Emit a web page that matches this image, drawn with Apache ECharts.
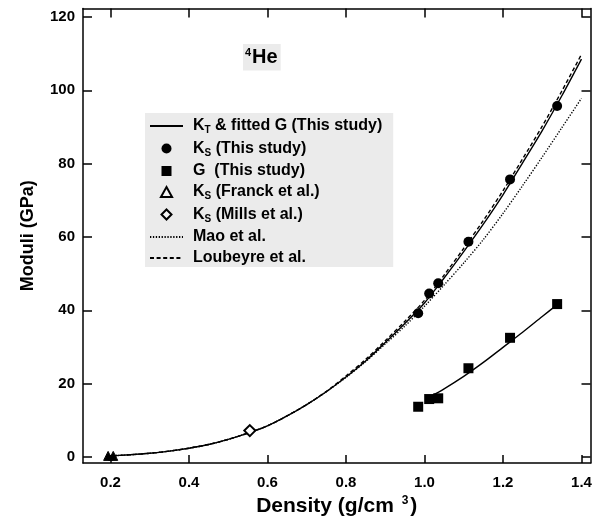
<!DOCTYPE html>
<html><head><meta charset="utf-8">
<script src="https://cdn.jsdelivr.net/npm/echarts@6/dist/echarts.min.js"></script>
<style>html,body{margin:0;padding:0;background:#fff}#c{width:605px;height:521px}</style>
</head><body><div id="c"></div>
<script>
// ---- data ----
const curveDensity = [0.19,0.25,0.3,0.35,0.4,0.45,0.5,0.55,0.6,0.65,0.7,0.75,0.8,0.85,0.9,0.95,1.0,1.05,1.1,1.15,1.2,1.25,1.3,1.35,1.4];
const ktThisStudy  = [0.25,0.6,1.0,1.6,2.4,3.4,4.8,6.5,8.5,11.2,14.3,17.8,21.8,26.2,31.2,36.4,42.0,48.8,56.0,63.5,71.5,80.2,89.0,98.5,108.5];
const maoEtAl      = [0.25,0.6,1.0,1.6,2.4,3.4,4.8,6.5,8.5,11.2,14.3,17.8,21.7,26.0,30.8,35.7,41.1,46.9,52.9,59.3,66.4,74.0,81.8,89.8,97.8];
const loubeyreEtAl = [0.25,0.6,1.0,1.6,2.4,3.4,4.8,6.5,8.5,11.2,14.3,17.9,22.1,26.6,31.7,37.0,42.7,49.6,56.9,64.5,72.6,81.3,90.2,99.8,109.8];
const gFitDensity  = [1.015,1.05,1.1,1.15,1.2,1.25,1.3,1.34];
const gFitValues   = [16.5,18.6,22.0,25.8,29.9,34.0,38.3,41.7];
const sampleDensity = [0.984,1.012,1.035,1.112,1.218,1.338];
const ksThisStudy   = [39.2,44.6,47.4,58.7,75.7,95.7];
const gThisStudy    = [13.7,15.8,16.0,24.2,32.5,41.7];
const franckDensity = [0.194,0.207];
const franckKs      = [0.3,0.3];
const millsDensity  = [0.555];
const millsKs       = [7.2];
const xTicks = [0.2,0.4,0.6,0.8,1.0,1.2,1.4];
const yTicks = [0,20,40,60,80,100,120];

const FONT = '"Liberation Sans", Arial, Helvetica, sans-serif';
const pairs = (xs, ys) => xs.map((x, i) => [x, ys[i]]);

const legendText = {
  'KT': '{n|K}{s|T}{n| & fitted G (This study)}',
  'KS this': '{n|K}{s|S}{n| (This study)}',
  'G this': '{n|G  (This study)}',
  'KS Franck': '{n|K}{s|S}{n| (Franck et al.)}',
  'KS Mills': '{n|K}{s|S}{n| (Mills et al.)}',
  'Mao': '{n|Mao et al.}',
  'Loubeyre': '{n|Loubeyre et al.}'
};
const hiddenSymbol = { opacity: 0 };
const hollow = { color: '#f4f4f4', borderColor: '#000', borderWidth: 2 };

const axisCommon = {
  type: 'value',
  axisLine: { show: true, onZero: false, lineStyle: { color: '#000', width: 1.5 } },
  splitLine: { show: false },
};

const chart = echarts.init(document.getElementById('c'), null, { renderer: 'canvas' });
chart.setOption({
  animation: false,
  backgroundColor: '#fff',
  textStyle: { fontFamily: FONT },
  grid: { left: 83, right: 14.5, top: 8.5, bottom: 58, containLabel: false, outerBoundsMode: 'none' },
  title: {
    text: '{sup|4}{b|He}',
    left: 243, top: 44, padding: [3, 3, 3, 2],
    backgroundColor: '#ebebeb',
    textStyle: {
      rich: {
        sup: { fontSize: 11, fontWeight: 'bold', color: '#000', fontFamily: FONT, padding: [0, 1, 10, 0] },
        b: { fontSize: 20, fontWeight: 'bold', color: '#000', fontFamily: FONT }
      }
    }
  },
  legend: {
    orient: 'vertical',
    left: 145, top: 113,
    padding: [5, 11, 1, 4],
    backgroundColor: '#ebebeb',
    itemWidth: 33, itemHeight: 10, itemGap: 5,
    data: [
      { name: 'KT', itemStyle: hiddenSymbol },
      { name: 'KS this', icon: 'circle' },
      { name: 'G this', icon: 'path://M0,0H10V10H0Z' },
      { name: 'KS Franck', icon: 'path://M5,0L10,9L0,9Z', itemStyle: hollow },
      { name: 'KS Mills', icon: 'path://M5,0L10,5L5,10L0,5Z', itemStyle: hollow },
      { name: 'Mao', itemStyle: hiddenSymbol },
      { name: 'Loubeyre', itemStyle: hiddenSymbol }
    ],
    formatter: name => legendText[name],
    textStyle: {
      padding: [0, 0, 0, 5],
      rich: {
        n: { fontSize: 16, fontWeight: 'bold', color: '#000', fontFamily: FONT },
        s: { fontSize: 10, fontWeight: 'bold', color: '#000', fontFamily: FONT, padding: [9, 0, 0, 0] }
      }
    }
  },
  xAxis: [
    Object.assign({}, axisCommon, {
      position: 'bottom', min: 0.13, max: 1.423,
      axisTick: { show: true, inside: true, length: 8, customValues: xTicks, lineStyle: { color: '#000', width: 1.5 } },
      axisLabel: { customValues: xTicks, formatter: v => v.toFixed(1), fontSize: 15, fontWeight: 'bold', color: '#000', margin: 12, fontFamily: FONT },
      name: '{a|Density (g/cm }{p|3}{a|)}',
      nameLocation: 'middle', nameGap: 31,
      nameTextStyle: {
        rich: {
          a: { fontSize: 21, fontWeight: 'bold', color: '#000', fontFamily: FONT },
          p: { fontSize: 12, fontWeight: 'bold', color: '#000', fontFamily: FONT, padding: [0, 2, 10, 2] }
        }
      }
    }),
    Object.assign({}, axisCommon, {
      position: 'top', min: 0.13, max: 1.423,
      axisTick: { show: true, inside: true, length: 9, customValues: xTicks, lineStyle: { color: '#000', width: 1.5 } },
      axisLabel: { show: false }
    })
  ],
  yAxis: [
    Object.assign({}, axisCommon, {
      position: 'left', min: -1.64, max: 122.3,
      axisTick: { show: true, inside: true, length: 9, customValues: yTicks, lineStyle: { color: '#000', width: 1.5 } },
      axisLabel: { customValues: yTicks, fontSize: 15, fontWeight: 'bold', color: '#000', margin: 8, fontFamily: FONT },
      name: 'Moduli (GPa)', nameLocation: 'middle', nameGap: 46, nameRotate: 90,
      nameTextStyle: { fontSize: 18, fontWeight: 'bold', color: '#000', fontFamily: FONT }
    }),
    Object.assign({}, axisCommon, {
      position: 'right', min: -1.64, max: 122.3,
      axisTick: { show: true, inside: true, length: 9, customValues: yTicks, lineStyle: { color: '#000', width: 1.5 } },
      axisLabel: { show: false }
    })
  ],
  series: [
    { name: 'Mao', type: 'line', symbol: 'none', smooth: 0.3, data: pairs(curveDensity, maoEtAl),
      lineStyle: { color: '#000', width: 1.4, type: [1.3, 1.6] }, itemStyle: { color: '#000' }, z: 2 },
    { name: 'Loubeyre', type: 'line', symbol: 'none', smooth: 0.3, data: pairs(curveDensity, loubeyreEtAl),
      lineStyle: { color: '#000', width: 1.4, type: [4, 2.6] }, itemStyle: { color: '#000' }, z: 2 },
    { name: 'KT', type: 'line', symbol: 'none', smooth: 0.3, data: pairs(curveDensity, ktThisStudy),
      lineStyle: { color: '#000', width: 1.4 }, itemStyle: { color: '#000' }, z: 3 },
    { name: 'KT', type: 'line', symbol: 'none', smooth: 0.3, data: pairs(gFitDensity, gFitValues),
      lineStyle: { color: '#000', width: 1.4 }, itemStyle: { color: '#000' }, z: 3 },
    { name: 'KS this', type: 'scatter', symbol: 'circle', symbolSize: 10, data: pairs(sampleDensity, ksThisStudy),
      itemStyle: { color: '#000', opacity: 1 }, z: 5 },
    { name: 'G this', type: 'scatter', symbol: 'rect', symbolSize: 10, data: pairs(sampleDensity, gThisStudy),
      itemStyle: { color: '#000', opacity: 1 }, z: 5 },
    { name: 'KS Franck', type: 'scatter', symbol: 'triangle', symbolSize: 9, data: pairs(franckDensity, franckKs),
      itemStyle: { color: '#000', borderColor: '#000', borderWidth: 1, opacity: 1 }, z: 5 },
    { name: 'KS Mills', type: 'scatter', symbol: 'emptyDiamond', symbolSize: 11, data: pairs(millsDensity, millsKs),
      itemStyle: { color: '#000', borderColor: '#000', borderWidth: 2, opacity: 1 }, z: 5 }
  ]
});
</script>
</body></html>
